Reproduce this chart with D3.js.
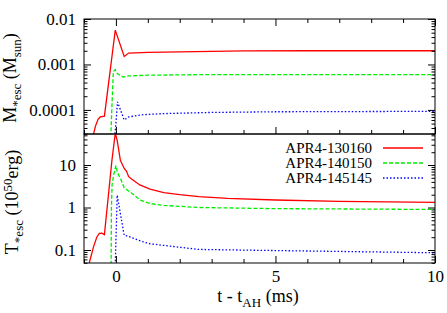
<!DOCTYPE html>
<html>
<head>
<meta charset="utf-8">
<script src="https://cdn.jsdelivr.net/npm/d3@7"></script>
<style>
  body { margin: 0; background: #fff; }
  svg { display: block; font-family: "Liberation Serif", "Times New Roman", serif; }
</style>
</head>
<body>
<svg id="chart" width="447" height="313"></svg>
<script>
// series names and colours
const seriesNames = ['APR4-130160', 'APR4-140150', 'APR4-145145'];
const seriesColors = ['#ff0000', '#00ee00', '#0000ff'];
const seriesDash = [null, '4,2', '1.5,2'];

// top panel: escaping mass [t (ms), M_sun]
const mass130160 = [[-0.72, 2.6e-5], [-0.64, 4.4e-5], [-0.56, 6.2e-5], [-0.49, 7.0e-5], [-0.36, 7.3e-5],
    [-0.02, 0.0057], [0.26, 0.0015], [0.4, 0.00178], [1, 0.00185], [2, 0.0019], [4, 0.00198], [6, 0.002], [10, 0.002]];
const mass140150 = [[-0.16, 2.5e-5], [-0.12, 1.5e-4], [-0.08, 0.0007], [-0.02, 0.00077], [0.05, 0.00062],
    [0.23, 0.00053], [0.4, 0.00056], [1, 0.00058], [3, 0.0006], [10, 0.0006]];
const mass145145 = [[-0.04, 2.5e-5], [0.0, 5e-5], [0.05, 0.00015], [0.26, 6e-5], [0.4, 7e-5], [0.8, 7.8e-5],
    [1.5, 8.3e-5], [3, 8.8e-5], [5, 9.1e-5], [10, 9.3e-5]];

// bottom panel: escaping energy [t (ms), 10^50 erg]
const energy130160 = [[-0.85, 0.045], [-0.7, 0.12], [-0.6, 0.2], [-0.52, 0.245], [-0.44, 0.25], [-0.36, 0.23],
    [-0.125, 12.9], [-0.02, 56], [0.04, 38], [0.14, 12.9], [0.26, 8.3], [0.33, 7.2], [0.4, 5.3], [0.5, 4.6],
    [0.75, 3.4], [1.07, 2.7], [1.5, 2.25], [2, 2.0], [2.6, 1.8], [3.5, 1.64], [5, 1.5], [7, 1.4], [10, 1.32]];
const energy140150 = [[-0.15, 0.045], [-0.14, 1.0], [-0.12, 3.5], [-0.07, 5.8], [0.0, 9.8], [0.05, 6.5],
    [0.14, 4.9], [0.26, 2.9], [0.45, 2.3], [0.76, 1.5], [1.07, 1.24], [1.5, 1.12], [2.6, 1.0], [5, 0.94], [10, 0.9]];
const energy145145 = [[-0.02, 0.045], [0.04, 1.95], [0.26, 0.22], [0.34, 0.215], [0.86, 0.155], [1.07, 0.14],
    [1.7, 0.123], [2.6, 0.103], [5, 0.097], [10, 0.086]];

const xMajor = [0, 5, 10];
const topMajor = [0.0001, 0.001, 0.01];
const topLabels = ['0.0001', '0.001', '0.01'];
const botMajor = [0.1, 1, 10];
const botLabels = ['0.1', '1', '10'];

const svg = d3.select('#chart');
const left = 84, right = 435;
const topPanel = { y0: 19, y1: 134 };
const botPanel = { y0: 134, y1: 263 };

const x = d3.scaleLinear().domain([-1, 10]).range([left, right]);
const yTop = d3.scaleLog().domain([Math.pow(10, -4.53), 0.01]).range([topPanel.y1, topPanel.y0]);
const yBot = d3.scaleLog().domain([0.0494, 53.7]).range([botPanel.y1, botPanel.y0]);

function minorLog(scale) {
    const [a, b] = scale.domain();
    const out = [];
    for (let e = Math.floor(Math.log10(a)); e <= Math.ceil(Math.log10(b)); e++) {
        for (let m = 2; m <= 9; m++) {
            const v = m * Math.pow(10, e);
            if (v >= a && v <= b) out.push(v);
        }
    }
    return out;
}
const xMinor = d3.range(-1, 11).filter((d) => !xMajor.includes(d));

function styleAxis(g) {
    g.select('.domain').remove();
    g.selectAll('line').attr('stroke', '#000').attr('stroke-width', 1);
    g.selectAll('text').attr('fill', '#000').style('font-size', '17px')
        .style('font-family', '"Liberation Serif", serif');
}

function drawPanel(panel, y, series, major, labels, id) {
    svg.append('clipPath').attr('id', id)
        .append('rect').attr('x', left).attr('y', panel.y0)
        .attr('width', right - left).attr('height', panel.y1 - panel.y0);

    const line = d3.line().x((d) => x(d[0])).y((d) => y(d[1]));
    svg.append('g').attr('clip-path', `url(#${id})`)
        .selectAll('path').data(series).join('path')
        .attr('d', (d) => line(d))
        .attr('fill', 'none')
        .attr('stroke', (d, i) => seriesColors[i])
        .attr('stroke-width', 1.3)
        .attr('stroke-dasharray', (d, i) => seriesDash[i]);

    // y axes, ticks pointing inward
    svg.append('g').attr('transform', `translate(${left},0)`)
        .call(d3.axisLeft(y).tickValues(major).tickSize(-7).tickPadding(8)
            .tickFormat((d, i) => labels[i]))
        .call(styleAxis);
    svg.append('g').attr('transform', `translate(${left},0)`)
        .call(d3.axisLeft(y).tickValues(minorLog(y)).tickSize(-3.5).tickFormat(''))
        .call(styleAxis);
    svg.append('g').attr('transform', `translate(${right},0)`)
        .call(d3.axisRight(y).tickValues(major).tickSize(-7).tickFormat(''))
        .call(styleAxis);
    svg.append('g').attr('transform', `translate(${right},0)`)
        .call(d3.axisRight(y).tickValues(minorLog(y)).tickSize(-3.5).tickFormat(''))
        .call(styleAxis);

    svg.append('rect').attr('x', left).attr('y', panel.y0)
        .attr('width', right - left).attr('height', panel.y1 - panel.y0)
        .attr('fill', 'none').attr('stroke', '#000').attr('stroke-width', 1);
}

drawPanel(topPanel, yTop, [mass130160, mass140150, mass145145], topMajor, topLabels, 'clipTop');
drawPanel(botPanel, yBot, [energy130160, energy140150, energy145145], botMajor, botLabels, 'clipBot');

// x ticks: top panel top & bottom edges, bottom panel bottom edge (labels)
svg.append('g').attr('transform', `translate(0,${topPanel.y0})`)
    .call(d3.axisTop(x).tickValues(xMajor).tickSize(-7).tickFormat('')).call(styleAxis);
svg.append('g').attr('transform', `translate(0,${topPanel.y0})`)
    .call(d3.axisTop(x).tickValues(xMinor).tickSize(-4).tickFormat('')).call(styleAxis);
svg.append('g').attr('transform', `translate(0,${topPanel.y1})`)
    .call(d3.axisBottom(x).tickValues(xMajor).tickSize(-7).tickFormat('')).call(styleAxis);
svg.append('g').attr('transform', `translate(0,${topPanel.y1})`)
    .call(d3.axisBottom(x).tickValues(xMinor).tickSize(-4).tickFormat('')).call(styleAxis);
svg.append('g').attr('transform', `translate(0,${botPanel.y1})`)
    .call(d3.axisBottom(x).tickValues(xMajor).tickSize(-7).tickPadding(7).tickFormat(d3.format('d')))
    .call(styleAxis);
svg.append('g').attr('transform', `translate(0,${botPanel.y1})`)
    .call(d3.axisBottom(x).tickValues(xMinor).tickSize(-4).tickFormat('')).call(styleAxis);

// legend
const legend = svg.append('g').style('font-size', '15px');
seriesNames.forEach((name, i) => {
    const ly = 148 + i * 15;
    legend.append('text').attr('x', 372).attr('y', ly).attr('dy', '0.35em')
        .attr('text-anchor', 'end').text(name);
    legend.append('line').attr('x1', 383).attr('x2', 423).attr('y1', ly).attr('y2', ly)
        .attr('stroke', seriesColors[i]).attr('stroke-width', 1.3)
        .attr('stroke-dasharray', seriesDash[i]);
});

// axis titles
const xt = svg.append('text').attr('x', 258).attr('y', 302).attr('text-anchor', 'middle')
    .style('font-size', '18px');
xt.append('tspan').text('t - t');
xt.append('tspan').attr('dy', 5).style('font-size', '13px').text('AH');
xt.append('tspan').attr('dy', -5).text(' (ms)');

const yt1 = svg.append('text').attr('transform', 'translate(16,78) rotate(-90)')
    .attr('text-anchor', 'middle').style('font-size', '18px');
yt1.append('tspan').text('M');
yt1.append('tspan').attr('dy', 5).style('font-size', '13px').text('*esc');
yt1.append('tspan').attr('dy', -5).text(' (M');
yt1.append('tspan').attr('dy', 5).style('font-size', '13px').text('sun');
yt1.append('tspan').attr('dy', -5).text(')');

const yt2 = svg.append('text').attr('transform', 'translate(18,202) rotate(-90)')
    .attr('text-anchor', 'middle').style('font-size', '18px');
yt2.append('tspan').text('T');
yt2.append('tspan').attr('dy', 5).style('font-size', '13px').text('*esc');
yt2.append('tspan').attr('dy', -5).text(' (10');
yt2.append('tspan').attr('dy', -6).style('font-size', '13px').text('50');
yt2.append('tspan').attr('dy', 6).text('erg)');
</script>
</body>
</html>
